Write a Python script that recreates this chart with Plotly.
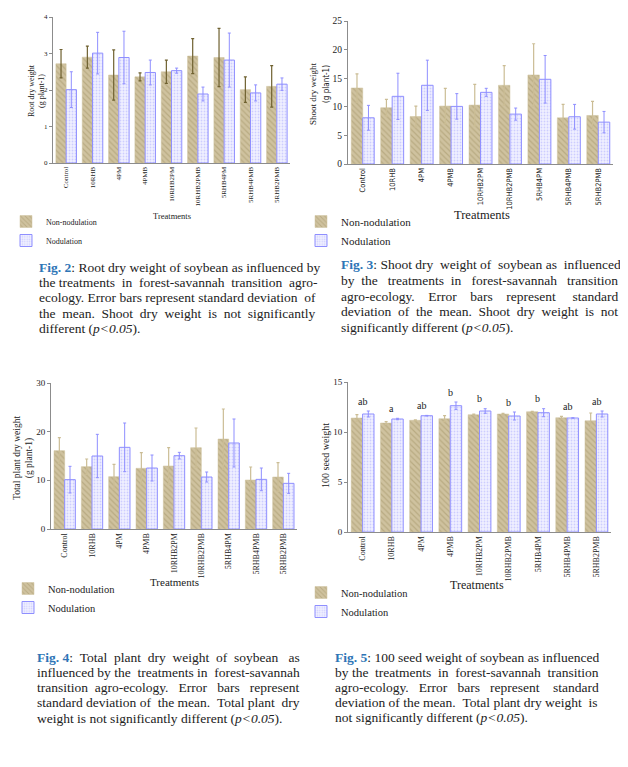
import plotly.graph_objects as go

# ---------------- data ----------------
treatments = ["Control", "10RHB", "4PM", "4PMB", "10RHB2PM", "10RHB2PMB",
              "5RHB4PM", "5RHB4PMB", "5RHB2PMB"]

root_non = [2.72, 2.90, 2.41, 2.36, 2.50, 2.93, 2.89, 2.01, 2.10]
root_non_sd = [0.39, 0.30, 0.69, 0.11, 0.32, 0.48, 0.80, 0.35, 0.57]
root_nod = [2.01, 3.01, 2.89, 2.48, 2.53, 1.89, 2.82, 1.92, 2.16]
root_nod_sd = [0.49, 0.57, 0.72, 0.34, 0.07, 0.19, 0.74, 0.22, 0.17]

shoot_non = [13.29, 9.84, 8.31, 10.13, 10.30, 13.76, 15.57, 8.08, 8.49]
shoot_non_sd = [2.46, 1.46, 1.82, 3.10, 3.63, 3.45, 5.45, 2.34, 2.46]
shoot_nod = [8.08, 11.83, 13.76, 10.07, 12.53, 8.72, 14.81, 8.26, 7.32]
shoot_nod_sd = [2.17, 4.04, 4.39, 2.23, 0.70, 1.06, 4.16, 2.16, 1.87]

total_non = [16.10, 12.81, 10.75, 12.47, 12.95, 16.71, 18.49, 10.07, 10.68]
total_non_sd = [2.67, 1.57, 2.54, 3.21, 3.76, 4.04, 6.17, 2.67, 2.95]
total_nod = [10.14, 15.00, 16.78, 12.53, 15.07, 10.68, 17.67, 10.20, 9.38]
total_nod_sd = [2.74, 4.45, 5.00, 2.67, 0.68, 1.03, 4.93, 2.33, 2.06]

seed_non = [11.40, 10.90, 11.17, 11.33, 11.73, 11.80, 12.03, 11.43, 11.13]
seed_non_sd = [0.33, 0.13, 0.05, 0.30, 0.05, 0.07, 0.03, 0.13, 0.77]
seed_nod = [11.80, 11.30, 11.63, 12.63, 12.10, 11.60, 11.93, 11.40, 11.80]
seed_nod_sd = [0.30, 0.07, 0.03, 0.37, 0.23, 0.40, 0.40, 0.02, 0.30]
seed_letters = ["ab", "a", "ab", "b", "b", "b", "b", "ab", "ab"]

series_names = ["Non-nodulation", "Nodulation"]

caption_lines = {
    2: ["Fig. 2: Root dry weight of soybean as influenced by",
        "the treatments in forest-savannah transition agro-",
        "ecology. Error bars represent standard deviation of",
        "the mean. Shoot dry weight is not significantly",
        "different (p<0.05)."],
    3: ["Fig. 3: Shoot dry weight of soybean as influenced",
        "by the treatments in forest-savannah transition",
        "agro-ecology. Error bars represent standard",
        "deviation of the mean. Shoot dry weight is not",
        "significantly different (p<0.05)."],
    4: ["Fig. 4: Total plant dry weight of soybean as",
        "influenced by the treatments in forest-savannah",
        "transition agro-ecology. Error bars represent",
        "standard deviation of the mean. Total plant dry",
        "weight is not significantly different (p<0.05)."],
    5: ["Fig. 5: 100 seed weight of soybean as influenced",
        "by the treatments in forest-savannah transition",
        "agro-ecology. Error bars represent standard",
        "deviation of the mean. Total plant dry weight is",
        "not significantly different (p<0.05)."],
}

# ---------------- styling ----------------
OFF = 8                      # page body margin
W, H = 628 - 2 * OFF, 767 - 2 * OFF
SERIF = "Liberation Serif, Times New Roman, serif"
NARROW = "DejaVu Sans Condensed, Liberation Sans Narrow, Liberation Sans, sans-serif"
TAN = "#cfc29f"
TAN_LINE = "#a39467"
NOD_BG = "#f1f1ff"
NOD_FG = "#a9a9ff"
NOD_LINE = "#8f8fff"
AXIS = "#8c8c8c"
FIG_BLUE = "#2e75b6"
NBSP = "\u00a0"


def px(x):
    return (x - OFF) / W


def py(y):
    return 1 - (y - OFF) / H


panels = [
    dict(non=root_non, non_sd=root_non_sd, nod=root_nod, nod_sd=root_nod_sd,
         x=(53, 290), y=(17, 163), rng=[0, 4], dtick=1, tick=7, xtick=7,
         xfam=SERIF, err_non="#6f6130", legend="legend"),
    dict(non=shoot_non, non_sd=shoot_non_sd, nod=shoot_nod, nod_sd=shoot_nod_sd,
         x=(348, 613), y=(21, 164), rng=[0, 25], dtick=5, tick=9.5, xtick=7.5,
         xfam=NARROW, err_non="#cbbd95", legend="legend2"),
    dict(non=total_non, non_sd=total_non_sd, nod=total_nod, nod_sd=total_nod_sd,
         x=(51, 297), y=(383, 529), rng=[0, 30], dtick=10, tick=9, xtick=8,
         xfam=SERIF, err_non="#cbbd95", legend="legend3"),
    dict(non=seed_non, non_sd=seed_non_sd, nod=seed_nod, nod_sd=seed_nod_sd,
         x=(348, 611), y=(382, 532), rng=[0, 15], dtick=5, tick=9, xtick=8,
         xfam=SERIF, err_non="#cbbd95", legend="legend4"),
]

fig = go.Figure()
layout = dict(width=W, height=H,
              margin=dict(l=0, r=0, t=0, b=0, pad=0, autoexpand=False),
              paper_bgcolor="white", plot_bgcolor="white",
              barmode="group", bargap=0.22, bargroupgap=0.0,
              font=dict(family=SERIF, color="#222"))

for i, p in enumerate(panels):
    n = "" if i == 0 else str(i + 1)
    xa, ya = "x" + n, "y" + n
    fig.add_trace(go.Bar(
        x=treatments, y=p["non"], name=series_names[0], xaxis=xa, yaxis=ya,
        legend=p["legend"],
        marker=dict(color=TAN, line=dict(color=TAN, width=0.5),
                    pattern=dict(shape="\\", bgcolor=TAN, fgcolor=TAN_LINE,
                                 size=4, solidity=0.3)),
        error_y=dict(type="data", array=p["non_sd"], color=p["err_non"],
                     thickness=1.2, width=1.5),
        offsetgroup="a"))
    fig.add_trace(go.Bar(
        x=treatments, y=p["nod"], name=series_names[1], xaxis=xa, yaxis=ya,
        legend=p["legend"],
        marker=dict(color=NOD_BG, line=dict(color=NOD_LINE, width=1),
                    pattern=dict(shape=".", bgcolor=NOD_BG, fgcolor=NOD_FG,
                                 size=3, solidity=0.3)),
        error_y=dict(type="data", array=p["nod_sd"], color=NOD_LINE,
                     thickness=1, width=1.5),
        offsetgroup="b"))
    layout["xaxis" + n] = dict(
        domain=[px(p["x"][0]), px(p["x"][1])], anchor=ya, showline=True,
        linecolor=AXIS, linewidth=1, ticks="", tickangle=-90, showgrid=False,
        automargin=False,
        tickfont=dict(family=p["xfam"], size=p["xtick"], color="#222"))
    layout["yaxis" + n] = dict(
        domain=[py(p["y"][1]), py(p["y"][0])], anchor=xa, range=p["rng"],
        dtick=p["dtick"], showline=True, linecolor=AXIS, linewidth=1,
        ticks="outside", ticklen=3, tickcolor=AXIS, showgrid=False,
        zeroline=False, automargin=False,
        tickfont=dict(family=SERIF, size=p["tick"], color="#222"))

# legends (x of legend box left edge, y of its top edge, font size)
leg_pos = [("legend", 6, 207, 8), ("legend2", 301, 207, 11),
           ("legend3", 8, 574, 10.5), ("legend4", 301, 578, 10.5)]
for name, lx, ly, fs in leg_pos:
    layout[name] = dict(x=px(lx), y=py(ly), xanchor="left", yanchor="top",
                        bgcolor="rgba(0,0,0,0)", borderwidth=0,
                        font=dict(family=SERIF, size=fs, color="#222"),
                        traceorder="normal")

fig.update_layout(**layout)

ann = []
# significance letters on panel 4
for cat, a, asd, b, bsd, lab in zip(treatments, seed_non, seed_non_sd,
                                    seed_nod, seed_nod_sd, seed_letters):
    ann.append(dict(x=cat, y=max(a + asd, b + bsd) + 0.25, xref="x4", yref="y4",
                    text=lab, showarrow=False, xanchor="center",
                    yanchor="bottom",
                    font=dict(family=SERIF, size=10, color="#222")))


def pann(text, x, y, size, angle=0, family=SERIF, xanchor="center",
         yanchor="middle", **kw):
    d = dict(text=text, x=px(x), y=py(y), xref="paper", yref="paper",
             showarrow=False, textangle=angle, xanchor=xanchor,
             yanchor=yanchor,
             font=dict(family=family, size=size, color="#222"))
    d.update(kw)
    return d


ann += [
    pann("Treatments", 172, 216, 8.5),
    pann("Treatments", 482, 215, 12.5),
    pann("Treatments", 174, 582, 11),
    pann("Treatments", 477, 585, 12),
    pann("Root dry weight<br>(g plant-1)", 36, 90, 8, angle=-90),
    pann("Shoot dry weight", 313, 94, 9, angle=-90),
    pann("(g plant-1)", 326, 84, 8, angle=-90, family=NARROW),
    pann("Total plant dry weight<br>(g plant-1)", 23, 458, 9.5, angle=-90),
    pann("100 seed weight", 325, 456, 10, angle=-90),
]

# ---------------- captions (one annotation per line, justified) ----------
TIMES_W = dict(zip("ABCDEFGHIJKLMNOPQRSTUVWXYZ",
                   [722, 667, 667, 722, 611, 556, 722, 722, 333, 389, 722, 611,
                    889, 722, 722, 556, 722, 667, 556, 611, 722, 722, 944, 722,
                    722, 611]))
TIMES_W.update(zip("abcdefghijklmnopqrstuvwxyz",
                   [444, 500, 444, 500, 444, 333, 500, 500, 278, 278, 500, 278,
                    778, 500, 500, 500, 500, 333, 389, 278, 500, 500, 722, 500,
                    500, 444]))
TIMES_W.update({c: 500 for c in "0123456789"})
TIMES_W.update({" ": 250, NBSP: 250, ".": 250, ",": 250, ":": 278, "-": 333,
                "(": 333, ")": 333, "<": 564})
CAP_SIZE = 13.5


def text_w(s):
    return sum(TIMES_W.get(c, 500) for c in s) / 1000 * CAP_SIZE


def markup(s):
    s = s.replace("p<0.05", "<i>p&lt;0.05</i>")
    for k in caption_lines:
        s = s.replace("Fig.%s%d" % (NBSP, k),
                      "<b><span style='color:%s'>Fig. %d</span></b>" % (FIG_BLUE, k))
    return s


# (left x, right x, first line centre y, line step)
cap_geom = {2: (37, 315, 267, 15.4), 3: (339, 617, 265, 15.6),
            4: (35, 298, 657, 15.25), 5: (333, 598, 657, 15.15)}
nb_w = 250 / 1000 * CAP_SIZE
for k, lines in caption_lines.items():
    left, right, y0, step = cap_geom[k]
    for j, line in enumerate(lines):
        line = line.replace("Fig. ", "Fig." + NBSP)
        words = line.split(" ")
        if j < len(lines) - 1 and len(words) > 1:
            extra = (right - left) - text_w(line)
            n_nb = max(0, int(round(extra / nb_w)))
            gaps = len(words) - 1
            out = words[0]
            for g in range(gaps):
                cnt = n_nb * (g + 1) // gaps - n_nb * g // gaps
                out += " " + NBSP * cnt + words[g + 1]
            line = out
        ann.append(pann(markup(line), left, y0 + j * step, CAP_SIZE,
                        xanchor="left", yanchor="middle", align="left"))

fig.update_layout(annotations=ann)
fig.write_html("out.html")
